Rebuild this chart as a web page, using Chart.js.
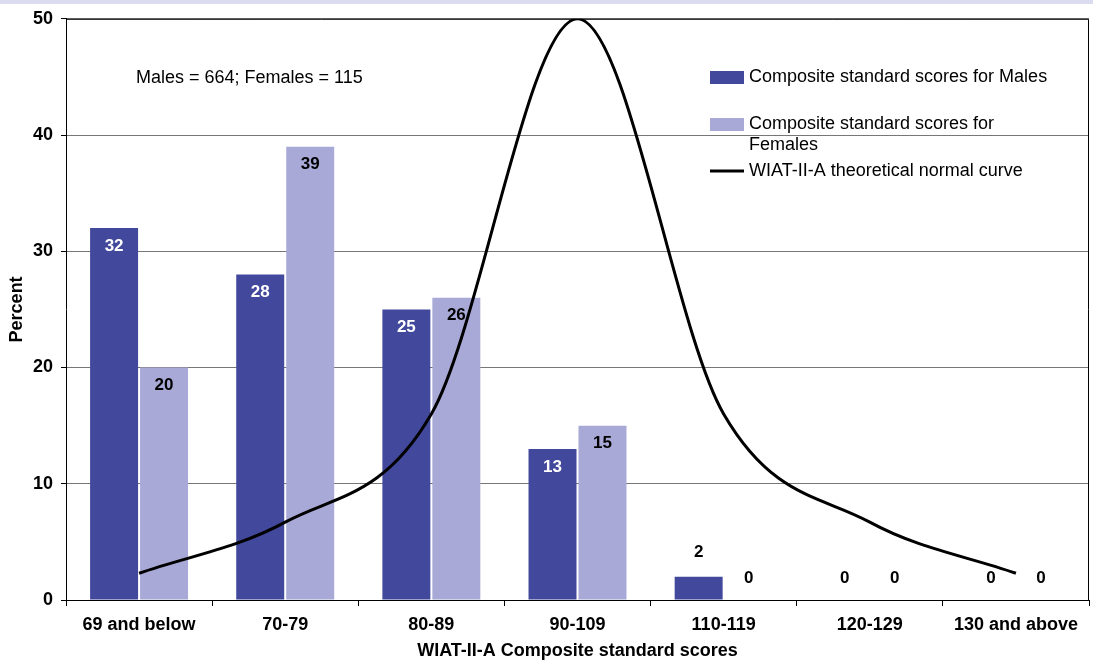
<!DOCTYPE html>
<html>
<head>
<meta charset="utf-8">
<script src="https://cdn.jsdelivr.net/npm/chart.js@4.4.0/dist/chart.umd.min.js"></script>
<style>
  html, body { margin: 0; padding: 0; background: #fff; }
  #wrap { width: 1093px; height: 660px; position: relative; }
</style>
</head>
<body>
<div id="wrap"><canvas id="chart" width="1093" height="660"></canvas></div>
<script>
const categories = ["69 and below", "70-79", "80-89", "90-109", "110-119", "120-129", "130 and above"];
const males = [32, 28, 25, 13, 2, 0, 0];
const females = [20, 39, 26, 15, 0, 0, 0];
const normalCurve = [2.3, 6.7, 16, 50, 16, 6.7, 2.3];
const yTicks = [0, 10, 20, 30, 40, 50];

const FONT = "'Liberation Sans', Arial, sans-serif";
const maleColor = "#42489c";
const femaleColor = "#a8a9d6";

// top band + plot frame
const framePlugin = {
  id: "frame",
  beforeDraw(chart) {
    const ctx = chart.ctx;
    ctx.save();
    ctx.fillStyle = "#dcdcf0";
    ctx.fillRect(0, 0, chart.width, 4);
    ctx.restore();
  },
  afterDraw(chart) {
    const { ctx, chartArea: a } = chart;
    ctx.save();
    ctx.strokeStyle = "#000";
    ctx.lineWidth = 1;
    ctx.beginPath();
    ctx.moveTo(a.left, a.top + 0.5);
    ctx.lineTo(a.right - 0.5, a.top + 0.5);
    ctx.lineTo(a.right - 0.5, a.bottom);
    ctx.stroke();
    ctx.restore();
  }
};

// bar value labels, Excel style
const valueLabels = {
  id: "valueLabels",
  afterDatasetsDraw(chart) {
    const ctx = chart.ctx;
    ctx.save();
    ctx.font = "bold 17px " + FONT;
    ctx.textAlign = "center";
    ctx.textBaseline = "middle";
    [0, 1].forEach(di => {
      const meta = chart.getDatasetMeta(di);
      const vals = chart.data.datasets[di].data;
      meta.data.forEach((bar, i) => {
        const v = vals[i];
        if (v >= 5) {
          ctx.fillStyle = di === 0 ? "#fff" : "#000";
          ctx.fillText(String(v), bar.x, bar.y + 18);
        } else {
          ctx.fillStyle = "#000";
          ctx.fillText(String(v), bar.x, bar.y - (v > 0 ? 24 : 22));
        }
      });
    });
    ctx.restore();
  }
};

// legend + sample size note
const notes = {
  id: "notes",
  afterDraw(chart) {
    const ctx = chart.ctx;
    const ds = chart.data.datasets;
    ctx.save();
    ctx.font = "18px " + FONT;
    ctx.fillStyle = "#000";
    ctx.textAlign = "left";
    ctx.textBaseline = "middle";
    ctx.fillText("Males = 664; Females = 115", 136, 78);

    const wrap = (text, maxW) => {
      const words = text.split(" ");
      const lines = [];
      let line = "";
      words.forEach(w => {
        const test = line ? line + " " + w : w;
        if (ctx.measureText(test).width > maxW && line) {
          lines.push(line);
          line = w;
        } else line = test;
      });
      lines.push(line);
      return lines;
    };

    const rows = [77, 124, 171];
    [0, 1, 2].forEach((k, n) => {
      const y = rows[n];
      if (k < 2) {
        ctx.fillStyle = ds[k].backgroundColor;
        ctx.fillRect(710, y - 6, 34, 13);
      } else {
        ctx.strokeStyle = "#000";
        ctx.lineWidth = 3;
        ctx.beginPath();
        ctx.moveTo(710, y);
        ctx.lineTo(744, y);
        ctx.stroke();
      }
      ctx.fillStyle = "#000";
      wrap(ds[k].label, 305).forEach((ln, j) => ctx.fillText(ln, 749, y + j * 21));
    });
    ctx.restore();
  }
};

new Chart(document.getElementById("chart"), {
  type: "bar",
  plugins: [framePlugin, valueLabels, notes],
  data: {
    labels: categories,
    datasets: [
      {
        label: "Composite standard scores for Males",
        data: males,
        backgroundColor: maleColor,
        categoryPercentage: 0.684,
        barPercentage: 0.96,
        order: 1
      },
      {
        label: "Composite standard scores for Females",
        data: females,
        backgroundColor: femaleColor,
        categoryPercentage: 0.684,
        barPercentage: 0.96,
        order: 1
      },
      {
        type: "line",
        label: "WIAT-II-A theoretical normal curve",
        data: normalCurve,
        borderColor: "#000",
        borderWidth: 3,
        pointRadius: 0,
        cubicInterpolationMode: "monotone",
        fill: false,
        order: 0
      }
    ]
  },
  options: {
    responsive: false,
    animation: false,
    layout: { padding: { left: 0, right: 4, top: 18, bottom: 0 } },
    plugins: {
      legend: { display: false },
      tooltip: { enabled: false }
    },
    scales: {
      x: {
        afterFit(scale) { scale.height = 60; },
        grid: {
          offset: true,
          drawOnChartArea: false,
          drawTicks: true,
          tickLength: 6,
          tickColor: "#000"
        },
        border: { display: true, color: "#000", width: 1 },
        ticks: {
          color: "#000",
          font: { family: FONT, size: 18, weight: "bold" },
          padding: 8,
          maxRotation: 0,
          autoSkip: false
        },
        title: {
          display: true,
          text: "WIAT-II-A Composite standard scores",
          color: "#000",
          font: { family: FONT, size: 18, weight: "bold", lineHeight: 1.0 },
          padding: { top: 0, bottom: 0 }
        }
      },
      y: {
        min: 0,
        max: 50,
        afterFit(scale) { scale.width = 66; },
        afterBuildTicks(scale) { scale.ticks = yTicks.map(v => ({ value: v })); },
        grid: {
          color: "#777",
          drawTicks: true,
          tickLength: 5,
          tickColor: "#000"
        },
        border: { display: true, color: "#000", width: 1 },
        ticks: {
          color: "#000",
          font: { family: FONT, size: 18, weight: "bold" },
          padding: 8
        },
        title: {
          display: true,
          text: "Percent",
          color: "#000",
          font: { family: FONT, size: 18, weight: "bold" },
          padding: { top: 6, bottom: 0 }
        }
      }
    }
  }
});
</script>
</body>
</html>
